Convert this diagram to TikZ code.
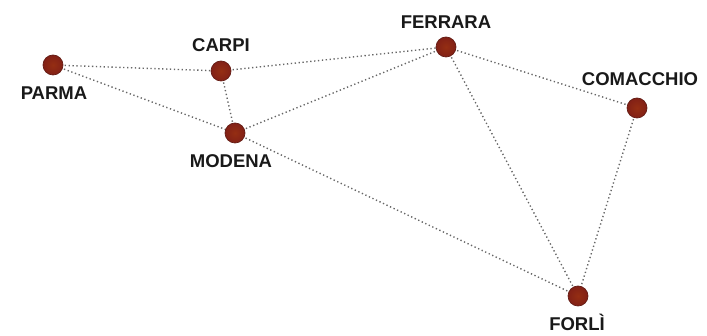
\documentclass[tikz,border=0pt]{standalone}
\usepackage{fontspec}
\setmainfont{Liberation Sans}
\begin{document}
\begin{tikzpicture}[x=1pt,y=-1pt,
  city/.style={circle,minimum size=20pt,inner sep=0pt,draw=citydark,line width=0.7pt,
    inner color=cityred!85!orange,outer color=cityred},
  lbl/.style={font=\bfseries\fontsize{18.5}{20}\selectfont,text=black!90,inner sep=0pt},
  road/.style={draw=black!60,line width=1.4pt,dash pattern=on 1.3pt off 2.6pt}]
\definecolor{cityred}{RGB}{130,32,22}
\definecolor{citydark}{RGB}{100,28,20}
\useasboundingbox (0,0) rectangle (707,336);
% roads first, towns drawn over them
\coordinate (cparma) at (53,65);
\coordinate (ccarpi) at (221,71);
\coordinate (cmodena) at (235,133);
\coordinate (cferrara) at (446,47);
\coordinate (ccomacchio) at (637,108);
\coordinate (cforli) at (578,296);
\path[road] (cparma) -- (ccarpi);
\path[road] (cparma) -- (cmodena);
\path[road] (ccarpi) -- (cmodena);
\path[road] (ccarpi) -- (cferrara);
\path[road] (cmodena) -- (cferrara);
\path[road] (cmodena) -- (cforli);
\path[road] (cferrara) -- (ccomacchio);
\path[road] (cferrara) -- (cforli);
\path[road] (ccomacchio) -- (cforli);
% towns
\node[city] (parma) at (cparma) {};
\node[city] (carpi) at (ccarpi) {};
\node[city] (modena) at (cmodena) {};
\node[city] (ferrara) at (cferrara) {};
\node[city] (comacchio) at (ccomacchio) {};
\node[city] (forli) at (cforli) {};
% names
\node[lbl] (lparma) at (54,93) {PARMA};
\node[lbl] (lcarpi) at (221,45) {CARPI};
\node[lbl] (lmodena) at (231,161) {MODENA};
\node[lbl] (lferrara) at (446,22) {FERRARA};
\node[lbl] (lcomacchio) at (640,79) {COMACCHIO};
\node[lbl] (lforli) at (577,322) {FORLÌ};
\end{tikzpicture}
\end{document}
